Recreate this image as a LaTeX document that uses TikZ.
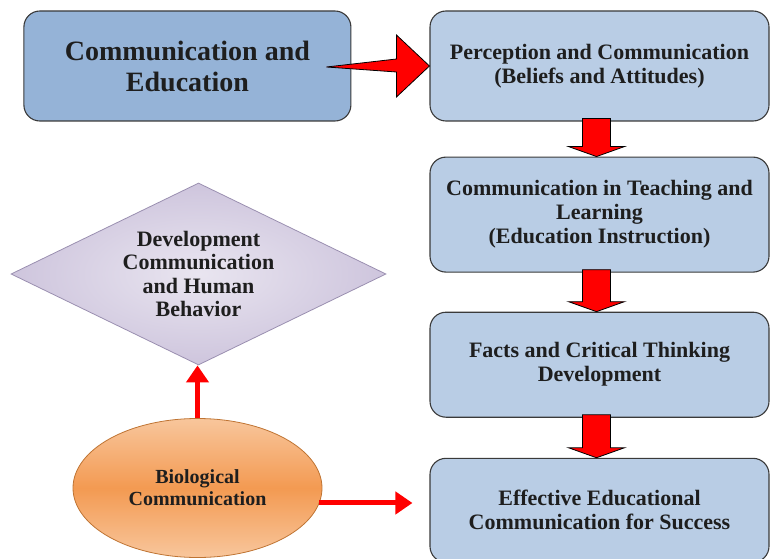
\documentclass[tikz,border=0pt]{standalone}
\usepackage{fontspec}
\setmainfont{Liberation Serif}
\usetikzlibrary{positioning,shapes.geometric,calc,arrows.meta}
\definecolor{darkblue}{HTML}{95B3D7}
\definecolor{lightblue}{HTML}{B9CDE5}
\definecolor{edgegray}{HTML}{3A3A3A}
\definecolor{diamedge}{HTML}{9A8FB0}
\definecolor{diamin}{HTML}{E9E5F0}
\definecolor{diamout}{HTML}{CEC5DD}
\definecolor{ovaledge}{HTML}{BF7433}
\definecolor{ovalmid}{HTML}{F39A52}
\definecolor{ovalrim}{HTML}{F8C69C}
\definecolor{inktext}{HTML}{1E1E1E}
\tikzstyle{bigbox}=[
draw=edgegray,
fill=darkblue,
line width=1.1pt,
rounded corners=16pt,
minimum width=327pt,
minimum height=110pt,
inner sep=0pt,
align=center,
text=inktext,
font=\bfseries\fontsize{28}{31}\selectfont
]
\tikzstyle{stepbox}=[
draw=edgegray,
fill=lightblue,
line width=1.1pt,
rounded corners=16pt,
minimum width=339pt,
inner sep=0pt,
align=center,
text=inktext,
font=\bfseries\fontsize{22}{24}\selectfont
]
\tikzstyle{diam}=[
shape=diamond,
draw=diamedge,
line width=0.8pt,
inner color=diamin,
outer color=diamout,
aspect=2.06,
minimum width=375pt,
minimum height=182pt,
inner sep=0pt,
align=center,
text=inktext,
font=\bfseries\fontsize{22}{23.5}\selectfont
]
\tikzstyle{oval}=[
shape=ellipse,
draw=ovaledge,
line width=0.8pt,
top color=ovalrim,
bottom color=ovalrim,
middle color=ovalmid,
minimum width=249pt,
minimum height=139pt,
inner sep=0pt,
align=center,
text=inktext,
font=\bfseries\fontsize{20}{22}\selectfont
]
\tikzstyle{blockarrow}=[draw=black,line width=0.8pt,fill=red,line join=miter]
\tikzstyle{redarrow}=[draw=red,line width=5pt,-{Triangle[width=22pt,length=17pt]}]

\begin{document}
\begin{tikzpicture}[x=1pt,y=1pt]
\useasboundingbox (0,0) rectangle (770,558);

\node[stepbox,minimum height=110pt] (perc) at (599.5,492) {Perception and Communication\\(Beliefs and Attitudes)};
\node[stepbox,minimum height=115pt] (teach) [below=35pt of perc] {Communication in Teaching and\\Learning\\(Education Instruction)};
\node[stepbox,minimum height=105pt] (facts) [below=39pt of teach] {Facts and Critical Thinking\\Development};
\node[stepbox,minimum height=104pt] (effect) [below=40pt of facts] {Effective Educational\\Communication for Success};
\node[bigbox] (comm) [left=78pt of perc] {Communication and\\Education};
\node[diam] (dev) at (198.5,284) {Development\\Communication\\and Human\\Behavior};
\node[oval] (bio) at (197.5,70) {Biological\\Communication};
\coordinate (bioend) at ($(effect.west)+(-17,5)$);

% big arrow into the first step
\draw[blockarrow] ($(comm.east)+(-25,-1)$) -- ($(perc.west)+(-33,7)$) -- ($(perc.west)+(-33,31)$)
-- (perc.west) -- ($(perc.west)+(-33,-31)$) -- ($(perc.west)+(-33,-6)$) -- cycle;

% arrows down the steps
\foreach \a/\b in {perc/teach,teach/facts,facts/effect}
\draw[blockarrow] ($(\a.south)+(-17,3)$) -- ($(\a.south)+(11,3)$) -- ($(\b.north)+(11,10)$)
-- ($(\b.north)+(25,10)$) -- ($(\b.north)+(-3,0)$) -- ($(\b.north)+(-31,10)$) -- ($(\b.north)+(-17,10)$) -- cycle;

\draw[redarrow] (bio.north) -- (bio.north |- dev.south);
\draw[redarrow] (bio.-7) -- (bio.-7 -| bioend);

\end{tikzpicture}
\end{document}
